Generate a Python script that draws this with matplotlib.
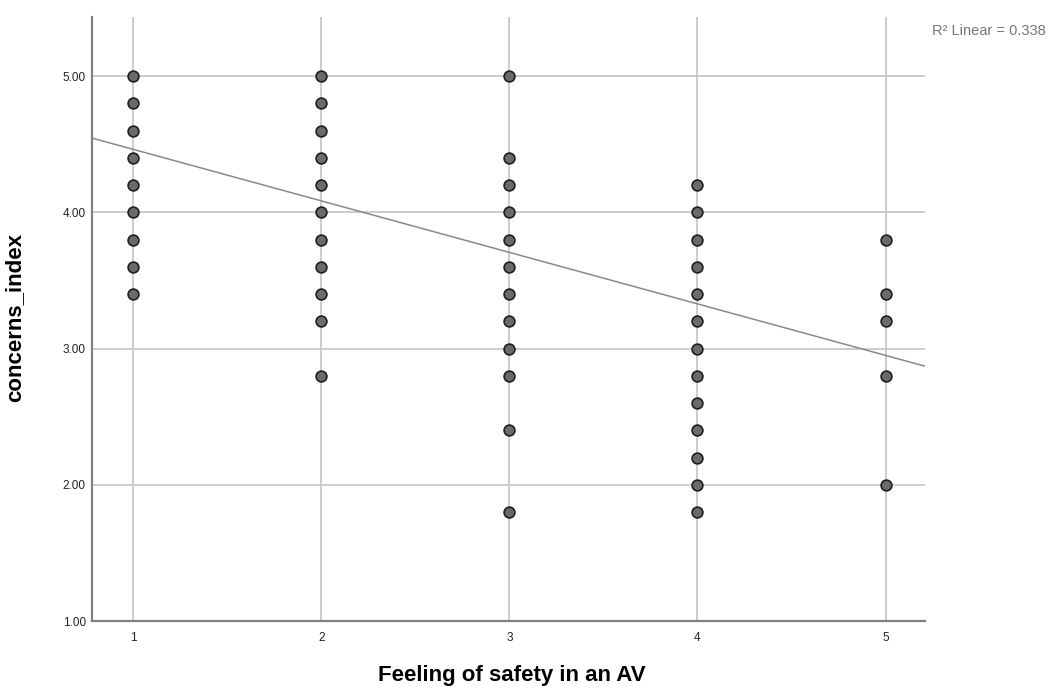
import matplotlib
matplotlib.use("Agg")
import matplotlib.pyplot as plt
import numpy as np

plt.rcParams['font.family'] = ['Liberation Sans', 'DejaVu Sans']

# Observed (distinct) values per safety level
safety_levels = [1, 2, 3, 4, 5]
concerns_1 = [5.0, 4.8, 4.6, 4.4, 4.2, 4.0, 3.8, 3.6, 3.4]
concerns_2 = [5.0, 4.8, 4.6, 4.4, 4.2, 4.0, 3.8, 3.6, 3.4, 3.2, 2.8]
concerns_3 = [5.0, 4.4, 4.2, 4.0, 3.8, 3.6, 3.4, 3.2, 3.0, 2.8, 2.4, 1.8]
concerns_4 = [4.2, 4.0, 3.8, 3.6, 3.4, 3.2, 3.0, 2.8, 2.6, 2.4, 2.2, 2.0, 1.8]
concerns_5 = [3.8, 3.4, 3.2, 2.8, 2.0]
groups = [concerns_1, concerns_2, concerns_3, concerns_4, concerns_5]

# Fit line
fit_intercept = 4.84
fit_slope = -0.378
r2_label = "R\u00b2 Linear = 0.338"

y_ticks = [1.0, 2.0, 3.0, 4.0, 5.0]
x_ticks = [1, 2, 3, 4, 5]

fig = plt.figure(figsize=(10.59, 6.93), dpi=100)
ax = fig.add_axes([92/1059, 72/693, (925-92)/1059, (621-17)/693])

xlim = (0.78, 5.21)
ylim = (1.0, 5.434)
ax.set_xlim(*xlim)
ax.set_ylim(*ylim)

ax.set_xticks(x_ticks)
ax.set_yticks(y_ticks)
ax.set_yticklabels([f"{v:.2f}" for v in y_ticks])
ax.grid(True, color='#c8c8c8', linewidth=1.3, zorder=0)
ax.set_axisbelow(True)
ax.tick_params(length=0, labelsize=8.5, colors='#222222')
ax.tick_params(axis='x', pad=8)
ax.tick_params(axis='y', pad=4.5)

for s in ['top', 'right']:
    ax.spines[s].set_visible(False)
for s in ['left', 'bottom']:
    ax.spines[s].set_color('#808080')
    ax.spines[s].set_linewidth(1.6)

xs = []
ys = []
for lvl, vals in zip(safety_levels, groups):
    xs.extend([lvl] * len(vals))
    ys.extend(vals)
ax.scatter(xs, ys, s=60, facecolor='#6a6a6a', edgecolor='#1e1e1e', linewidth=1.2, zorder=3)

lx = np.array(xlim)
ax.plot(lx, fit_intercept + fit_slope * lx, color='#8a8a8a', linewidth=1.1, zorder=2)

ax.set_xlabel("Feeling of safety in an AV", fontsize=16, fontweight='bold')
ax.xaxis.set_label_coords(0.504, -0.073)
ax.set_ylabel("concerns_index", fontsize=16, fontweight='bold')
ax.yaxis.set_label_coords(-0.080, 0.503)

fig.text(932/1059, 1 - 31/693, r2_label, fontsize=10.5, color='#777777', va='center', ha='left')

fig.savefig("out.png", dpi=100)
